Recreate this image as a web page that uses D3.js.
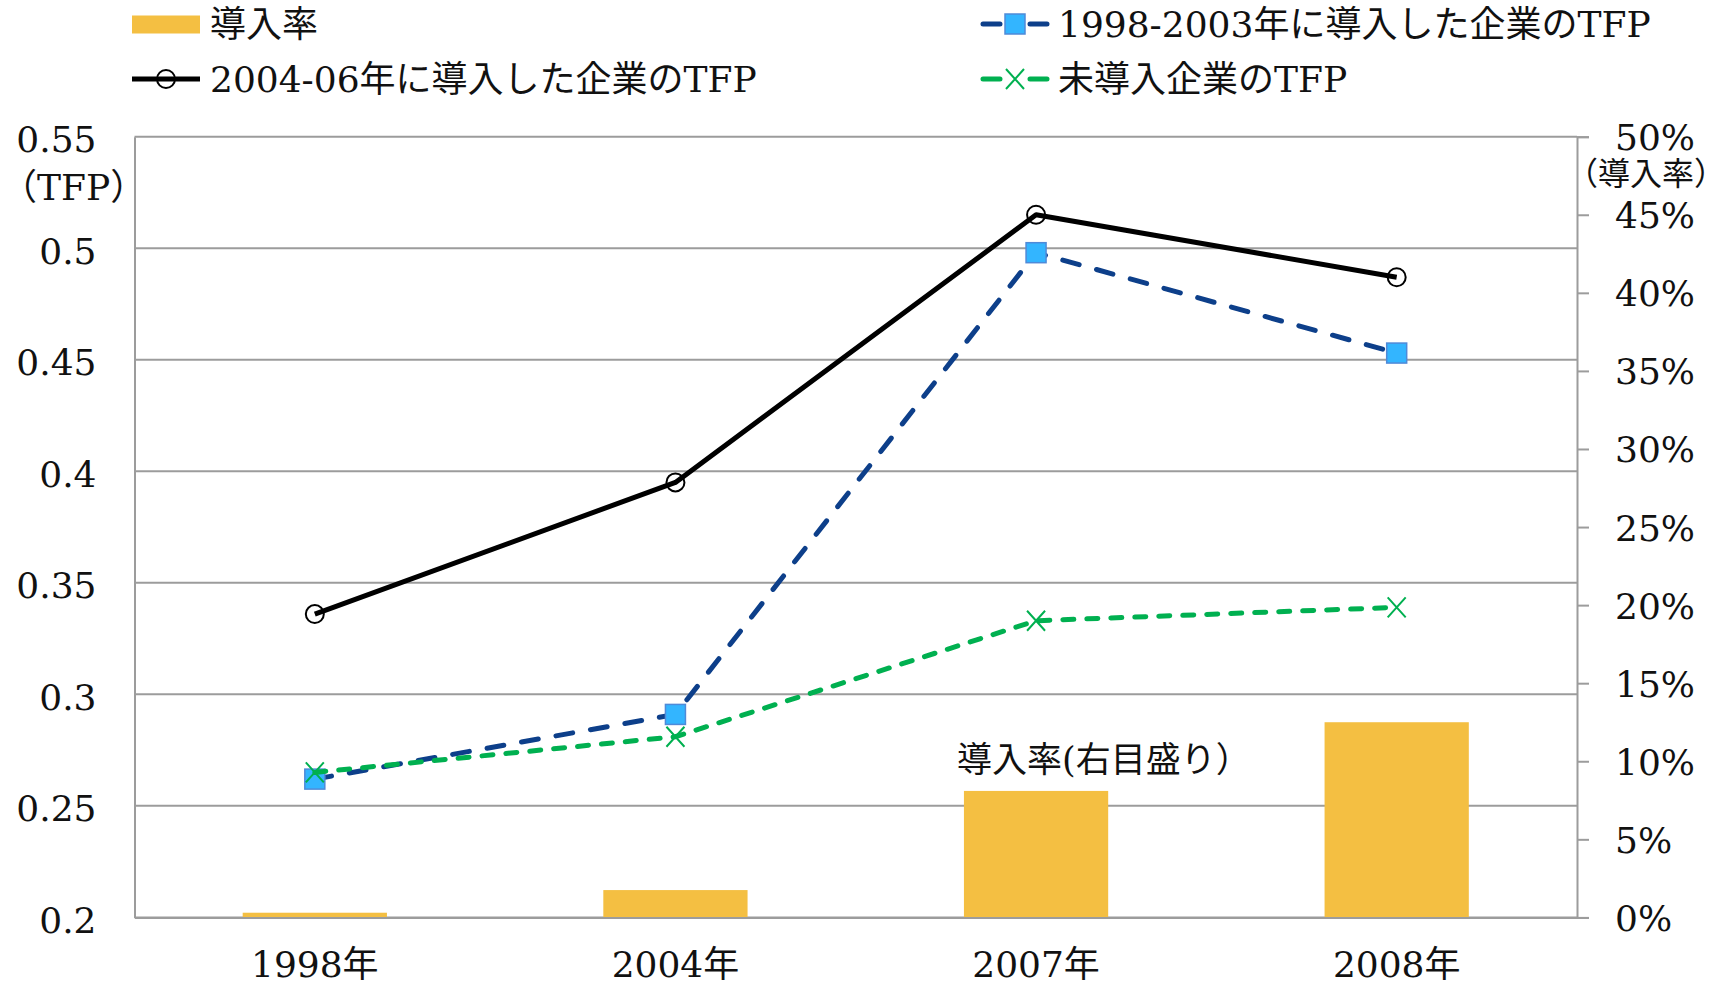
<!DOCTYPE html>
<html lang="ja">
<head>
<meta charset="utf-8">
<script src="https://cdn.jsdelivr.net/npm/d3@7"></script>
<style>
  html, body { margin: 0; padding: 0; background: #ffffff; }
  svg { display: block; }
  text { font-family: "DejaVu Serif", "Noto Sans CJK JP", serif; fill: #111; }
</style>
</head>
<body>
<svg id="chart" width="1729" height="985"></svg>
<script>
// Years on the horizontal axis
const years = ["1998年", "2004年", "2007年", "2008年"];

// Adoption rate (%), right axis
const adoptionRate = [0.3, 1.75, 8.1, 12.5];

// TFP by group, left axis
const tfpAdopted1998to2003 = [0.262, 0.291, 0.498, 0.453];
const tfpAdopted2004to06 = [0.336, 0.395, 0.515, 0.487];
const tfpNotAdopted = [0.265, 0.281, 0.333, 0.339];

// Axis ticks
const tfpTicks = [0.2, 0.25, 0.3, 0.35, 0.4, 0.45, 0.5, 0.55];
const tfpTickLabels = ["0.2", "0.25", "0.3", "0.35", "0.4", "0.45", "0.5", "0.55"];
const rateTicks = [0, 5, 10, 15, 20, 25, 30, 35, 40, 45, 50];

// Legend entries
const legendLabels = ["導入率", "1998-2003年に導入した企業のTFP", "2004-06年に導入した企業のTFP", "未導入企業のTFP"];

const svg = d3.select("#chart");
const plot = { left: 134.5, right: 1577, top: 136.7, bottom: 917.4 };

const x = d3.scaleBand().domain(years).range([plot.left, plot.right]).padding(0);
const cx = d => x(d) + x.bandwidth() / 2;
const yL = d3.scaleLinear().domain([0.2, 0.55]).range([plot.bottom, plot.top]);
const yR = d3.scaleLinear().domain([0, 50]).range([plot.bottom, plot.top]);

const gridColor = "#9c9c9c";
const barColor = "#F4BF42";
const blue = "#0D3F8A";
const blueFill = "#33B5FF";
const blueEdge = "#4F8AD8";
const green = "#00B050";

// Horizontal gridlines
svg.append("g")
  .selectAll("line")
  .data(tfpTicks)
  .join("line")
  .attr("x1", plot.left).attr("x2", plot.right)
  .attr("y1", d => yL(d)).attr("y2", d => yL(d))
  .attr("stroke", gridColor).attr("stroke-width", 2);

// Bars: adoption rate on the right axis
const barW = x.bandwidth() * 0.4;
svg.append("g")
  .selectAll("rect")
  .data(years)
  .join("rect")
  .attr("x", d => cx(d) - barW / 2)
  .attr("width", barW)
  .attr("y", (d, i) => yR(adoptionRate[i]))
  .attr("height", (d, i) => yR(0) - yR(adoptionRate[i]))
  .attr("fill", barColor);

// Left axis
const leftAxis = d3.axisLeft(yL)
  .tickValues(tfpTicks)
  .tickFormat((d, i) => tfpTickLabels[i])
  .tickSize(0)
  .tickPadding(38);
const gL = svg.append("g").attr("transform", `translate(${plot.left},0)`).call(leftAxis);
gL.select(".domain").attr("stroke", gridColor).attr("stroke-width", 2);
gL.selectAll(".tick text")
  .attr("font-size", 36)
  .attr("font-family", "DejaVu Serif")
  .attr("fill", "#111")
  .attr("dy", "0.42em");

// Right axis
const rightAxis = d3.axisRight(yR)
  .tickValues(rateTicks)
  .tickFormat(d => d + "%")
  .tickSize(12)
  .tickPadding(26);
const gR = svg.append("g").attr("transform", `translate(${plot.right},0)`).call(rightAxis);
gR.select(".domain").attr("stroke", gridColor).attr("stroke-width", 2);
gR.selectAll(".tick line").attr("stroke", gridColor).attr("stroke-width", 2);
gR.selectAll(".tick text")
  .attr("font-size", 36)
  .attr("font-family", "DejaVu Serif")
  .attr("fill", "#111")
  .attr("dy", "0.36em");

// Bottom axis
const bottomAxis = d3.axisBottom(x).tickSize(0).tickPadding(34);
const gB = svg.append("g").attr("transform", `translate(0,${plot.bottom})`).call(bottomAxis);
gB.select(".domain").attr("stroke", gridColor).attr("stroke-width", 2);
gB.selectAll(".tick text")
  .attr("font-size", 36)
  .attr("font-family", "DejaVu Serif, Noto Sans CJK JP")
  .attr("fill", "#111");

// Axis unit labels
svg.append("text").attr("x", 1).attr("y", 187).attr("text-anchor", "start")
  .attr("dominant-baseline", "central").attr("font-size", 36).text("（TFP）");
svg.append("text").attr("x", 1646).attr("y", 174).attr("text-anchor", "middle")
  .attr("dominant-baseline", "central").attr("font-size", 32).text("（導入率）");

// Line series
const line = d3.line().x(d => d[0]).y(d => d[1]);
const pts = arr => arr.map((v, i) => [cx(years[i]), yL(v)]);

function drawSquares(g, points) {
  g.selectAll(null).data(points).join("rect")
    .attr("x", d => d[0] - 10).attr("y", d => d[1] - 10)
    .attr("width", 20).attr("height", 20)
    .attr("fill", blueFill).attr("stroke", blueEdge).attr("stroke-width", 1.5);
}
function drawCircles(g, points) {
  g.selectAll(null).data(points).join("circle")
    .attr("cx", d => d[0]).attr("cy", d => d[1]).attr("r", 9)
    .attr("fill", "none").attr("stroke", "#000").attr("stroke-width", 2);
}
function drawCrosses(g, points) {
  const s = 9, h = 10;
  g.selectAll(null).data(points).join("path")
    .attr("d", d => `M${d[0]-s},${d[1]-h}L${d[0]+s},${d[1]+h}M${d[0]+s},${d[1]-h}L${d[0]-s},${d[1]+h}`)
    .attr("stroke", green).attr("stroke-width", 2).attr("fill", "none");
}

// 1998-2003 adopters
const gBlue = svg.append("g");
gBlue.append("path").attr("d", line(pts(tfpAdopted1998to2003)))
  .attr("fill", "none").attr("stroke", blue).attr("stroke-width", 5)
  .attr("stroke-dasharray", "17,18").attr("stroke-linecap", "round");
drawSquares(gBlue, pts(tfpAdopted1998to2003));

// 2004-06 adopters
const gBlack = svg.append("g");
gBlack.append("path").attr("d", line(pts(tfpAdopted2004to06)))
  .attr("fill", "none").attr("stroke", "#000").attr("stroke-width", 5)
  .attr("stroke-linejoin", "round");
drawCircles(gBlack, pts(tfpAdopted2004to06));

// Non-adopters
const gGreen = svg.append("g");
gGreen.append("path").attr("d", line(pts(tfpNotAdopted)))
  .attr("fill", "none").attr("stroke", green).attr("stroke-width", 5)
  .attr("stroke-dasharray", "11,13").attr("stroke-linecap", "round");
drawCrosses(gGreen, pts(tfpNotAdopted));

// In-plot note for the bars
svg.append("text").attr("x", 957).attr("y", 760)
  .attr("dominant-baseline", "central").attr("font-size", 35)
  .attr("font-family", "Noto Sans CJK JP").text("導入率(右目盛り）");

// Legend
const lg = svg.append("g");
const col1 = 132, col2 = 983, row1 = 24, row2 = 79;
lg.append("rect").attr("x", col1).attr("y", row1 - 8.5).attr("width", 68).attr("height", 18).attr("fill", barColor);

lg.append("line").attr("x1", col2).attr("x2", col2 + 64).attr("y1", row1).attr("y2", row1)
  .attr("stroke", blue).attr("stroke-width", 5).attr("stroke-linecap", "round").attr("stroke-dasharray", "17,30");
drawSquares(lg.append("g"), [[col2 + 32, row1]]);

lg.append("line").attr("x1", col1).attr("x2", col1 + 68).attr("y1", row2).attr("y2", row2)
  .attr("stroke", "#000").attr("stroke-width", 5);
drawCircles(lg.append("g"), [[col1 + 34, row2]]);

lg.append("line").attr("x1", col2).attr("x2", col2 + 64).attr("y1", row2).attr("y2", row2)
  .attr("stroke", green).attr("stroke-width", 5).attr("stroke-linecap", "round").attr("stroke-dasharray", "17,30");
drawCrosses(lg.append("g"), [[col2 + 32, row2]]);

const legendPos = [[210, row1], [1058, row1], [210, row2], [1058, row2]];
lg.selectAll("text.lbl").data(legendLabels).join("text")
  .attr("class", "lbl")
  .attr("x", (d, i) => legendPos[i][0]).attr("y", (d, i) => legendPos[i][1])
  .attr("dominant-baseline", "central").attr("font-size", 36)
  .text(d => d);
</script>
</body>
</html>
